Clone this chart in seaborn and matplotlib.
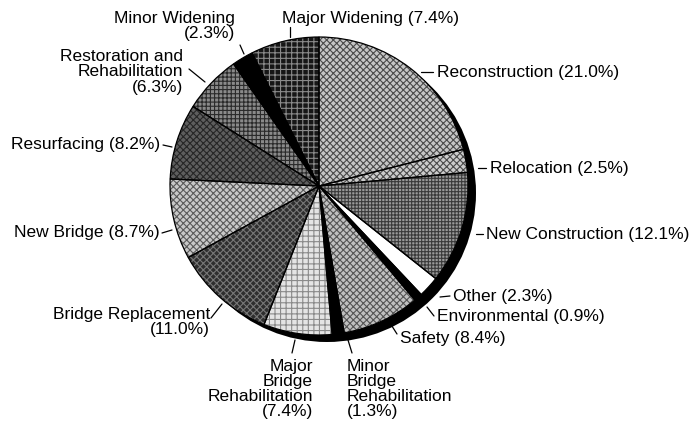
import matplotlib
matplotlib.use("Agg")
import matplotlib.pyplot as plt
from matplotlib.patches import Circle
import seaborn as sns

# Share of funding by improvement type, clockwise from 12 o'clock
categories = [
    "Reconstruction", "Relocation", "New Construction", "Other",
    "Environmental", "Safety", "Minor Bridge Rehabilitation",
    "Major Bridge Rehabilitation", "Bridge Replacement", "New Bridge",
    "Resurfacing", "Restoration and Rehabilitation", "Minor Widening",
    "Major Widening",
]
shares = [21.0, 2.5, 12.1, 2.3, 0.9, 8.4, 1.3, 7.4, 11.0, 8.7, 8.2, 6.3, 2.3, 7.4]

# How each category name is broken into lines in its label
label_formats = [
    "Reconstruction ({:.1f}%)",
    "Relocation ({:.1f}%)",
    "New Construction ({:.1f}%)",
    "Other ({:.1f}%)",
    "Environmental ({:.1f}%)",
    "Safety ({:.1f}%)",
    "Minor\nBridge\nRehabilitation\n({:.1f}%)",
    "Major\nBridge\nRehabilitation\n({:.1f}%)",
    "Bridge Replacement\n({:.1f}%)",
    "New Bridge ({:.1f}%)",
    "Resurfacing ({:.1f}%)",
    "Restoration and\nRehabilitation\n({:.1f}%)",
    "Minor Widening\n({:.1f}%)",
    "Major Widening ({:.1f}%)",
]

# Grayscale fills with hatch textures (fill colour, hatch, hatch colour)
fills = ["#c6c6c6", "#cccccc", "#9a9a9a", "#ffffff", "#000000", "#c0c0c0", "#000000",
         "#e4e4e4", "#2e2e2e", "#c8c8c8", "#5e5e5e", "#8a8a8a", "#000000", "#161616"]
hatches = ["xxxxx", "xxxxx", "+++++", "", "", "xxxxx", "",
           "+++", "xxxxx", "xxxxx", "xxxxx", "++++", "", "+++"]
hatch_colors = ["#4a4a4a", "#4a4a4a", "#3a3a3a", "#ffffff", "#000000", "#555555", "#000000",
                "#8a8a8a", "#777777", "#5a5a5a", "#262626", "#2a2a2a", "#000000", "#8a8a8a"]

# Label placement (pixel coords, y down): text anchor, alignment, leader segment
label_layout = [
    ((437, 72), "left", ((421, 72), (433, 72))),
    ((490, 168), "left", ((478, 168), (486, 168))),
    ((486, 234), "left", ((476, 234), (483, 234))),
    ((453, 297), "left", ((440, 297), (450, 296))),
    ((437, 316), "left", ((427, 307), (434, 316))),
    ((400, 339), "left", ((390, 323), (397, 334))),
    ((347, 389), "left", ((348, 340), (352, 353))),
    ((313, 389), "right", ((292, 353), (295, 340))),
    ((210, 322), "right", ((211, 318), (222, 304))),
    ((160, 233), "right", ((162, 233), (172, 230))),
    ((160, 145), "right", ((163, 145), (172, 147))),
    ((183, 72), "right", ((189, 69), (205, 82))),
    ((235, 26), "right", ((240, 45), (244, 54))),
    ((282, 18), "left", ((290, 27), (290, 37))),
]

W, H = 693, 429
cx, cy, R = 319, 186, 149

sns.set_theme(style="white")
plt.rcParams["font.family"] = ["Liberation Sans", "DejaVu Sans"]
plt.rcParams["hatch.linewidth"] = 0.8

fig = plt.figure(figsize=(W / 100, H / 100), dpi=100)
ax = fig.add_axes([0, 0, 1, 1])

# Drop shadow behind the pie
ax.add_patch(Circle((cx + 8, H - cy - 7), R, facecolor="black", edgecolor="none", zorder=0))

wedges, _ = ax.pie(shares, startangle=90, counterclock=False, radius=R,
                   center=(cx, H - cy), colors=fills,
                   wedgeprops=dict(linewidth=0))
for w, h, hc in zip(wedges, hatches, hatch_colors):
    w.set_zorder(1)
    w.set_edgecolor(hc)
    w.set_hatch(h)

# Slice outlines on top of the textures
outlines, _ = ax.pie(shares, startangle=90, counterclock=False, radius=R,
                     center=(cx, H - cy),
                     wedgeprops=dict(fill=False, edgecolor="black", linewidth=0.9))
for w in outlines:
    w.set_zorder(2)

for fmt, v, ((tx, ty), ha, ((x0, y0), (x1, y1))) in zip(label_formats, shares, label_layout):
    ax.text(tx, H - ty, fmt.format(v), ha=ha, va="center", multialignment=ha,
            fontsize=12.5, color="black", linespacing=1.02, zorder=3)
    ax.plot([x0, x1], [H - y0, H - y1], color="black", lw=0.9, zorder=3)

ax.set_xlim(0, W)
ax.set_ylim(0, H)
ax.set_aspect("equal")
ax.axis("off")

fig.savefig("out.png", dpi=100, facecolor="white")
